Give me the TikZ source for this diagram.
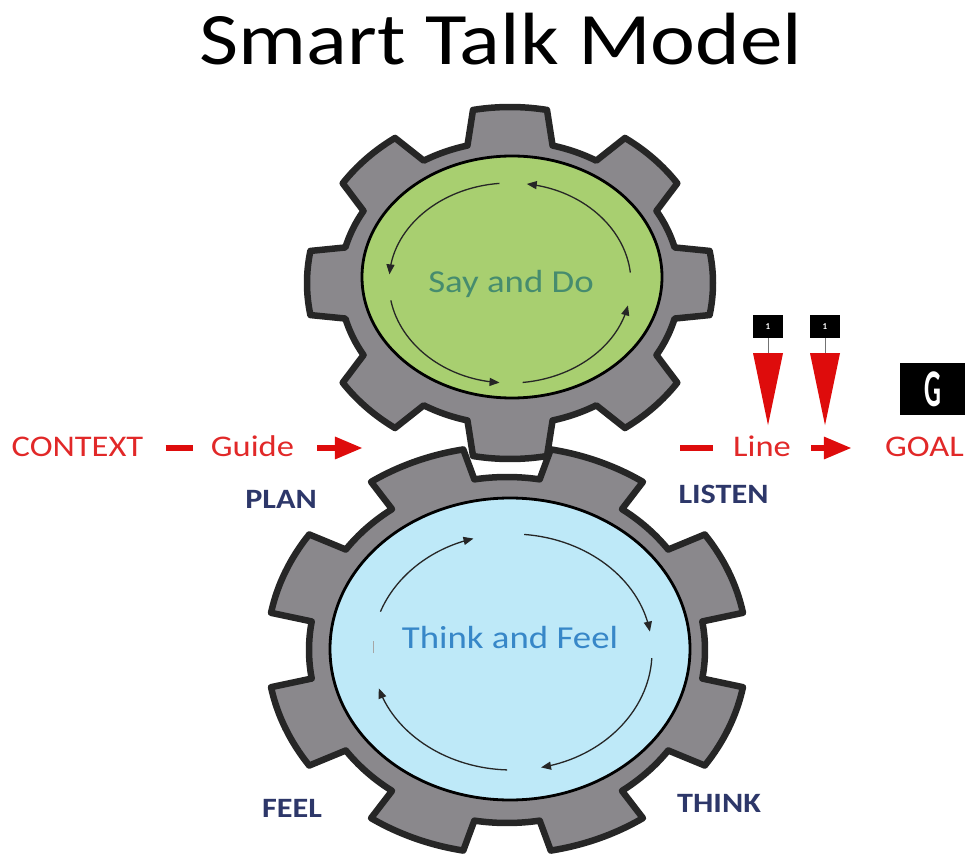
\documentclass[tikz,border=0pt]{standalone}
\usepackage{xcolor}
\usepackage{fontspec}
\setmainfont{Carlito}
\usepackage{tikz}
\usetikzlibrary{
    arrows
}
\definecolor{gearGray}{RGB}{138,136,140}
\definecolor{sayGreen}{RGB}{168,207,112}
\definecolor{thinkBlue}{RGB}{190,233,248}
\definecolor{sayInk}{RGB}{70,140,110}
\definecolor{thinkInk}{RGB}{55,135,200}
\definecolor{labelRed}{RGB}{225,40,40}
\definecolor{arrowRed}{RGB}{222,12,12}
\definecolor{stepNavy}{RGB}{45,55,105}
\tikzset{
    gearbody/.style={fill=gearGray, draw=black!85, line width=6.5pt, line join=round},
    face/.style={draw=black, line width=2.8pt},
    cyclearrow/.style={->, >=triangle 45, line width=1.3pt, draw=black!85},
    titletext/.style={font=\fontsize{74}{80}\selectfont, xscale=1.15, anchor=base, inner sep=0pt},
    facetext/.style={font=\fontsize{32}{38}\selectfont, xscale=1.15, anchor=base, inner sep=0pt},
    redlabel/.style={text=labelRed, font=\fontsize{30}{36}\selectfont, xscale=1.15, anchor=base, inner sep=0pt},
    steplabel/.style={text=stepNavy, font=\bfseries\fontsize{28}{34}\selectfont, xscale=1.15, anchor=base, inner sep=0pt},
    reddash/.style={draw=arrowRed, line width=5.5pt},
    redarrow/.style={reddash, -triangle 45},
    tagbox/.style={fill=black, text=white, minimum width=30pt, minimum height=23pt, inner sep=0pt, font=\bfseries\fontsize{9}{9}\selectfont},
    goalbox/.style={fill=black, text=white, minimum width=65pt, minimum height=52pt, inner sep=0pt, font=\bfseries\fontsize{53}{53}\selectfont},
    pinline/.style={draw=black!55, line width=1pt}
}

\begin{document}
\begin{tikzpicture}[x=1pt,y=1pt]
    \useasboundingbox (0,0) rectangle (966,855);
    \draw (501,790) node[titletext](title){Smart Talk Model};

    \begin{scope}[shift={(507,205)}]
        \draw[gearbody] (9.5:198pt and 173pt) \foreach \a in {22.5,67.5,...,337.5}{
            -- ({\a-12}:240pt and 204pt) arc[start angle=\a-12, end angle=\a+12, x radius=240pt, y radius=204pt]
            -- ({\a+13}:198pt and 173pt) arc[start angle=\a+13, end angle=\a+32, x radius=198pt, y radius=173pt]
        } -- cycle;
    \end{scope}
    \draw[face, fill=thinkBlue] (510,206) ellipse[x radius=180pt, y radius=151pt];

    \begin{scope}[shift={(510,572)}]
        \draw[gearbody] (-14.5:170pt and 142pt) \foreach \a in {0,45,...,315}{
            -- ({\a-10.5}:203pt and 176pt) arc[start angle=\a-10.5, end angle=\a+10.5, x radius=203pt, y radius=176pt]
            -- ({\a+14.5}:170pt and 142pt) arc[start angle=\a+14.5, end angle=\a+30.5, x radius=170pt, y radius=142pt]
        } -- cycle;
    \end{scope}
    \draw[face, fill=sayGreen] (512,578) ellipse[x radius=150pt, y radius=121pt];

    \begin{scope}[shift={(510,572)}]
        \foreach \s/\e in {95/175,190/265,276/347,6/82}
            \draw[cyclearrow] (\s:121pt and 100pt) arc[start angle=\s, end angle=\e, x radius=121pt, y radius=100pt];
    \end{scope}
    \begin{scope}[shift={(512,203)}]
        \foreach \s/\e in {160/106,85/10,-3/-78,-92/-162}
            \draw[cyclearrow] (\s:140pt and 118pt) arc[start angle=\s, end angle=\e, x radius=140pt, y radius=118pt];
        \draw[black!35, line width=0.8pt] (-139,-1) -- (-139,11);
    \end{scope}

    \draw (511,562) node[facetext, text=sayInk](say){Say and Do};
    \draw (510,207) node[facetext, text=thinkInk](think){Think and Feel};

    \draw (77.5,398) node[redlabel](context){CONTEXT};
    \draw (252.5,398) node[redlabel](guide){Guide};
    \draw (762,398) node[redlabel](lineword){Line};
    \draw (924.5,398) node[redlabel](goal){GOAL};
    \coordinate (gearin) at (362,407);
    \coordinate (gearout) at (680,407);
    \draw[reddash, shorten <=22pt, shorten >=18pt] (context.east |- gearin) -- (guide.west |- gearin);
    \draw[redarrow, shorten <=23pt] (guide.east |- gearin) -- (gearin);
    \draw[reddash, shorten >=20pt] (gearout) -- (lineword.west |- gearout);
    \draw[redarrow, shorten <=20pt, shorten >=34pt] (lineword.east |- gearout) -- (goal.west |- gearout);

    \draw (281,347) node[steplabel](plan){PLAN};
    \draw (723.5,352) node[steplabel](listen){LISTEN};
    \draw (292,38) node[steplabel](feel){FEEL};
    \draw (719,43) node[steplabel](thinkstep){THINK};

    \draw (768,528.5) node[tagbox](tagA){1};
    \draw (825,528.5) node[tagbox](tagB){1};
    \foreach \t in {tagA,tagB}{
        \draw[pinline] (\t.south) -- ++(0,-15) coordinate (\t-top);
        \fill[arrowRed] (\t-top) ++(-15,0) -- ++(30,0) -- ++(-15,-72) -- cycle;
    }
    \draw (932.5,466) node[goalbox](goalmark){\scalebox{0.5}[1]{G}};
\end{tikzpicture}
\end{document}
